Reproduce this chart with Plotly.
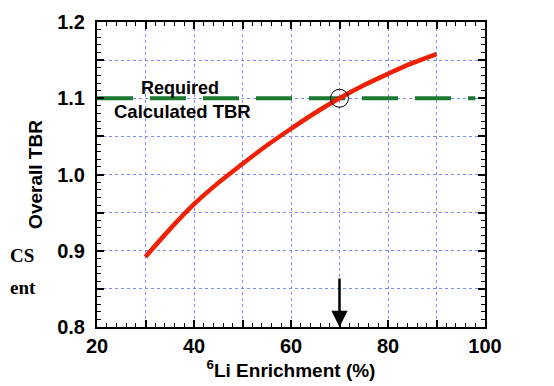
import plotly.graph_objects as go

enrichment = [30, 35, 40, 45, 50, 55, 60, 65, 70, 75, 80, 85, 90]
tbr = [0.892, 0.928, 0.961, 0.989, 1.014, 1.038, 1.060, 1.081, 1.100, 1.117, 1.132, 1.146, 1.158]
required_x = [20, 98]
required_y = [1.1, 1.1]
x_ticks = [20, 30, 40, 50, 60, 70, 80, 90, 100]
x_labels = ["20", "", "40", "", "60", "", "80", "", "100"]
y_ticks = [0.8, 0.85, 0.9, 0.95, 1.0, 1.05, 1.1, 1.15, 1.2]
y_labels = ["0.8", "", "0.9", "", "1.0", "", "1.1", "", "1.2"]

FONT = "Liberation Sans, Arial, sans-serif"
SERIF = "Liberation Serif, Times New Roman, serif"

fig = go.Figure()
fig.add_trace(go.Scatter(x=required_x, y=required_y, mode="lines",
                         line=dict(color="#1a7a30", width=4, dash="36px,17px"),
                         showlegend=False, hoverinfo="skip"))
fig.add_trace(go.Scatter(x=enrichment, y=tbr, mode="lines",
                         line=dict(color="#f02000", width=4.5, shape="spline", smoothing=1.0),
                         showlegend=False))

fig.add_shape(type="circle", xref="x", yref="y", xsizemode="pixel", ysizemode="pixel",
              xanchor=70, yanchor=1.1, x0=-9, x1=9, y0=-9, y1=9,
              line=dict(color="black", width=1))

fig.add_annotation(x=70, y=0.8, ax=0, ay=-50, text="", showarrow=True,
                   arrowhead=2, arrowsize=1.3, arrowwidth=2.5, arrowcolor="black")

fig.add_annotation(x=37.1, y=1.1134, text="<b>Required</b>", showarrow=False,
                   font=dict(family=FONT, size=18, color="black"))
fig.add_annotation(x=37.7, y=1.082, text="<b>Calculated TBR</b>", showarrow=False,
                   font=dict(family=FONT, size=18.5, color="black"))

fig.add_annotation(xref="paper", yref="paper", x=-0.229, y=0.193, xanchor="left",
                   text="<b>CS</b>", showarrow=False,
                   font=dict(family=SERIF, size=19, color="black"))
fig.add_annotation(xref="paper", yref="paper", x=-0.229, y=0.0885, xanchor="left",
                   text="<b>ent</b>", showarrow=False,
                   font=dict(family=SERIF, size=19, color="black"))

axis_common = dict(showline=True, linecolor="black", linewidth=2, mirror="ticks",
                   ticks="inside", ticklen=7, tickwidth=1.5, tickcolor="black",
                   showgrid=True, gridcolor="#7f8cff", griddash="dot", gridwidth=1,
                   zeroline=False, automargin=False,
                   tickfont=dict(family=FONT, size=20, color="black"))

fig.update_xaxes(range=[20, 100], tickmode="array", tickvals=x_ticks,
                 ticktext=["<b>%s</b>" % t if t else "" for t in x_labels],
                 minor=dict(dtick=2, ticks="inside", ticklen=4, tickcolor="black", tickwidth=1, showgrid=False),
                 title=dict(text="<b><sup>6</sup>Li Enrichment (%)</b>", font=dict(family=FONT, size=19, color="black"), standoff=6),
                 **axis_common)
fig.update_yaxes(range=[0.8, 1.2], tickmode="array", tickvals=y_ticks,
                 ticktext=["<b>%s</b>" % t if t else "" for t in y_labels],
                 minor=dict(dtick=0.01, ticks="inside", ticklen=4, tickcolor="black", tickwidth=1, showgrid=False),
                 title=dict(text="<b>Overall TBR</b>", font=dict(family=FONT, size=19, color="black"), standoff=10),
                 ticklabelstandoff=6,
                 **axis_common)

fig.update_layout(width=546, height=378, margin=dict(l=89, r=69, t=14, b=59, autoexpand=False),
                  plot_bgcolor="white", paper_bgcolor="white", showlegend=False,
                  font=dict(family=FONT, color="black"))

fig.write_html("out.html")
